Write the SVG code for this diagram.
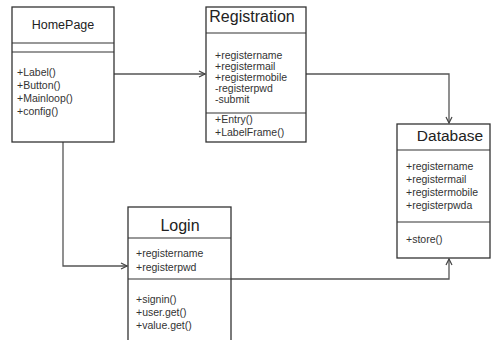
<svg xmlns="http://www.w3.org/2000/svg" width="491" height="340" viewBox="0 0 491 340">
<defs>
<marker id="arr" viewBox="0 0 8 8" refX="7" refY="4" markerWidth="8" markerHeight="8" markerUnits="userSpaceOnUse" orient="auto">
<path d="M1,1 L7,4 L1,7" fill="none" stroke="#444" stroke-width="1.2"/>
</marker>
<style>
.box{fill:#fff;stroke:#333;stroke-width:1.3}
.ln{stroke:#333;stroke-width:1.2}
.title{font-family:"Liberation Sans",Arial,sans-serif;fill:#222;text-anchor:middle}
.t{font-family:"Liberation Sans",Arial,sans-serif;font-size:10.5px;fill:#333}
.conn{fill:none;stroke:#555;stroke-width:1.3;marker-end:url(#arr)}
</style>
</defs>
<rect width="491" height="340" fill="#fff"/>
<g id="connectors">
<path class="conn" d="M114,74 H205"/>
<path class="conn" d="M306,74 H449 V123"/>
<path class="conn" d="M63,142 V266 H127"/>
<path class="conn" d="M231,279 H449 V259"/>
</g>
<g id="HomePage">
<rect class="box" x="12" y="7" width="102" height="135"/>
<line class="ln" x1="12" y1="43" x2="114" y2="43"/>
<line class="ln" x1="12" y1="52" x2="114" y2="52"/>
<text class="title" x="63" y="28.5" font-size="12.5">HomePage</text>
<text class="t" x="17" y="76">+Label()</text>
<text class="t" x="17" y="89">+Button()</text>
<text class="t" x="17" y="102">+Mainloop()</text>
<text class="t" x="17" y="115">+config()</text>
</g>
<g id="Registration">
<rect class="box" x="206" y="7" width="100" height="135"/>
<line class="ln" x1="206" y1="33" x2="306" y2="33"/>
<line class="ln" x1="206" y1="113" x2="306" y2="113"/>
<text class="title" x="252" y="21.5" font-size="16">Registration</text>
<text class="t" x="215" y="59">+registername</text>
<text class="t" x="215" y="70">+registermail</text>
<text class="t" x="215" y="81">+registermobile</text>
<text class="t" x="215" y="92">-registerpwd</text>
<text class="t" x="215" y="103">-submit</text>
<text class="t" x="215" y="123">+Entry()</text>
<text class="t" x="215" y="136">+LabelFrame()</text>
</g>
<g id="Database">
<rect class="box" x="397" y="124" width="93" height="134"/>
<line class="ln" x1="397" y1="150" x2="490" y2="150"/>
<line class="ln" x1="397" y1="222" x2="490" y2="222"/>
<text class="title" x="450" y="140.5" font-size="15.5">Database</text>
<text class="t" x="406" y="170">+registername</text>
<text class="t" x="406" y="183">+registermail</text>
<text class="t" x="406" y="196">+registermobile</text>
<text class="t" x="406" y="209">+registerpwda</text>
<text class="t" x="406" y="243">+store()</text>
</g>
<g id="Login">
<rect class="box" x="128" y="207" width="103" height="140"/>
<line class="ln" x1="128" y1="238" x2="231" y2="238"/>
<line class="ln" x1="128" y1="279" x2="231" y2="279"/>
<text class="title" x="180" y="231" font-size="16">Login</text>
<text class="t" x="136" y="257">+registername</text>
<text class="t" x="136" y="271">+registerpwd</text>
<text class="t" x="136" y="303">+signin()</text>
<text class="t" x="136" y="316">+user.get()</text>
<text class="t" x="136" y="329">+value.get()</text>
</g>
</svg>
